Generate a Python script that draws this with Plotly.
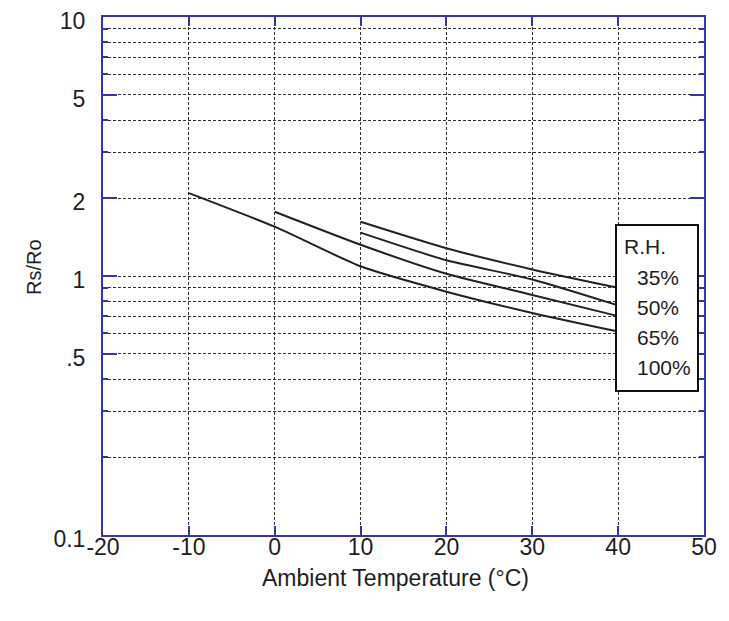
import plotly.graph_objects as go

# Data
temp_100 = [-10, 0, 10, 20, 30, 40]
rs_100 = [2.09, 1.55, 1.09, 0.87, 0.72, 0.61]
temp_65 = [0, 10, 20, 30, 40]
rs_65 = [1.77, 1.32, 1.02, 0.845, 0.70]
temp_50 = [10, 20, 30, 40]
rs_50 = [1.47, 1.15, 0.97, 0.77]
temp_35 = [10, 20, 30, 40]
rs_35 = [1.62, 1.28, 1.06, 0.90]

x_ticks = [-20, -10, 0, 10, 20, 30, 40, 50]
y_ticks = [0.1, 0.5, 1, 2, 5, 10]
y_tick_text = ["0.1", ".5", "1", "2", "5", "10"]
y_minor = [0.2, 0.3, 0.4, 0.5, 0.6, 0.7, 0.8, 0.9, 2, 3, 4, 5, 6, 7, 8, 9]
legend_title = "R.H."
legend_labels = ["35%", "50%", "65%", "100%"]

FONT = "Liberation Sans, Arial, sans-serif"
AXIS_COLOR = "#3434b0"
GRID_COLOR = "#333333"
TEXT_COLOR = "#1e1e1e"

# page body has an 8px margin; plot area targets screen px x 103..704, y 17..535
fig = go.Figure()
for xs, ys, name in [(temp_35, rs_35, "35%"), (temp_50, rs_50, "50%"),
                     (temp_65, rs_65, "65%"), (temp_100, rs_100, "100%")]:
    fig.add_trace(go.Scatter(x=xs, y=ys, mode="lines", name=name,
                             line=dict(color="#222222", width=2, shape="spline", smoothing=0.6),
                             showlegend=False))

fig.update_layout(
    width=721, height=613,
    margin=dict(l=95, r=25, t=9, b=86, autoexpand=False),
    paper_bgcolor="white", plot_bgcolor="white",
    font=dict(family=FONT, size=23, color=TEXT_COLOR),
    xaxis=dict(range=[-20, 50], tickvals=x_ticks, ticktext=[str(v) for v in x_ticks],
               automargin=False, ticklabeloverflow="allow",
               showline=True, linecolor=AXIS_COLOR, linewidth=2, mirror="ticks",
               ticks="inside", ticklen=9, tickcolor=AXIS_COLOR, tickwidth=1.5,
               showgrid=True, gridcolor=GRID_COLOR, gridwidth=1, griddash="3px,2px",
               zeroline=False, tickfont=dict(size=23, color=TEXT_COLOR), ticklabelstandoff=-10),
    yaxis=dict(type="log", range=[-1, 1], tickvals=y_ticks, ticktext=y_tick_text,
               automargin=False, ticklabeloverflow="allow", ticklabelshift=4,
               showline=True, linecolor=AXIS_COLOR, linewidth=2, mirror="ticks",
               ticks="inside", ticklen=14, tickcolor=AXIS_COLOR, tickwidth=1.5,
               showgrid=True, gridcolor=GRID_COLOR, gridwidth=1, griddash="3px,2px",
               minor=dict(tickvals=y_minor, showgrid=True, gridcolor=GRID_COLOR,
                          gridwidth=1, griddash="3px,2px", ticks="inside", ticklen=5,
                          tickcolor=AXIS_COLOR),
               zeroline=False, tickfont=dict(size=23, color=TEXT_COLOR), ticklabelstandoff=11),
)

# axis titles
fig.add_annotation(text="Ambient Temperature (°C)", xref="paper", yref="paper",
                   x=0.4875, y=-0.083, xanchor="center", yanchor="middle",
                   showarrow=False, font=dict(size=23, family=FONT, color=TEXT_COLOR))
fig.add_annotation(text="Rs/Ro", xref="paper", yref="paper",
                   x=(34 - 103) / 601, y=(535 - 267) / 518, xanchor="center", yanchor="middle",
                   textangle=-90, showarrow=False, font=dict(size=20, family=FONT, color=TEXT_COLOR))

# legend box
fig.add_shape(type="rect", xref="paper", yref="paper",
              x0=(616 - 103) / 601, x1=(698 - 103) / 601,
              y0=(535 - 391) / 518, y1=(535 - 225) / 518,
              line=dict(color="#111111", width=2), fillcolor="white", layer="above")
fig.add_annotation(text=legend_title, xref="paper", yref="paper",
                   x=(622 - 103) / 601, y=(535 - 246) / 518, xanchor="left", yanchor="middle",
                   showarrow=False, font=dict(size=21, family=FONT, color=TEXT_COLOR))
for lbl, py in zip(legend_labels, [277, 307, 337, 367]):
    fig.add_annotation(text=lbl, xref="paper", yref="paper",
                       x=(635 - 103) / 601, y=(535 - py) / 518, xanchor="left", yanchor="middle",
                       showarrow=False, font=dict(size=21, family=FONT, color=TEXT_COLOR))

# cropped box fragment at the left edge
fig.add_shape(type="rect", xref="paper", yref="paper",
              x0=(-10 - 103) / 601, x1=(6 - 103) / 601,
              y0=(535 - 392) / 518, y1=(535 - 290) / 518,
              line=dict(color="#222222", width=1.5), fillcolor="rgba(0,0,0,0)")

fig.write_html("out.html")
